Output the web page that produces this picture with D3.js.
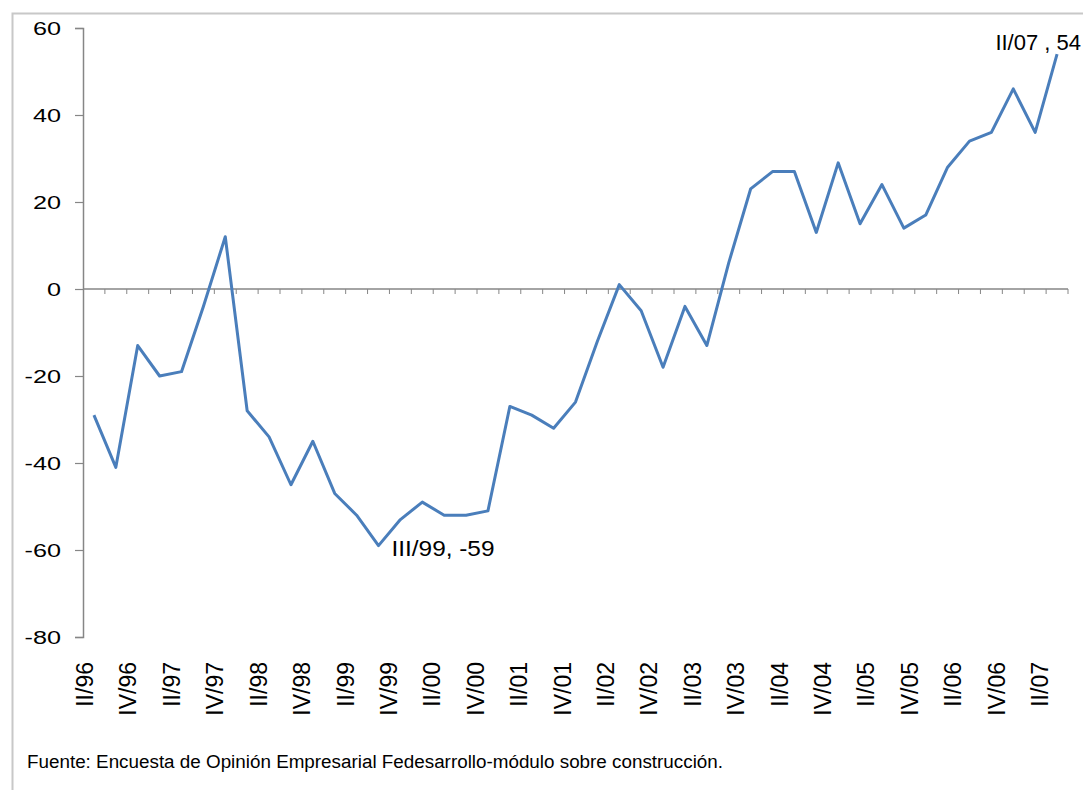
<!DOCTYPE html>
<html>
<head>
<meta charset="utf-8">
<script src="https://cdn.jsdelivr.net/npm/d3@7"></script>
<style>
  body { margin: 0; background: #fff; }
  svg { display: block; font-family: Arial, "Liberation Sans", sans-serif; }
</style>
</head>
<body>
<script>
// quarters II/96 .. II/07
var quarters = [
    "II/96", "III/96", "IV/96",
    "I/97", "II/97", "III/97", "IV/97",
    "I/98", "II/98", "III/98", "IV/98",
    "I/99", "II/99", "III/99", "IV/99",
    "I/00", "II/00", "III/00", "IV/00",
    "I/01", "II/01", "III/01", "IV/01",
    "I/02", "II/02", "III/02", "IV/02",
    "I/03", "II/03", "III/03", "IV/03",
    "I/04", "II/04", "III/04", "IV/04",
    "I/05", "II/05", "III/05", "IV/05",
    "I/06", "II/06", "III/06", "IV/06",
    "I/07", "II/07"
];

var balance = [
    -29, -41, -13,
    -20, -19, -4, 12,
    -28, -34, -45, -35,
    -47, -52, -59, -53,
    -49, -52, -52, -51,
    -27, -29, -32, -26,
    -12, 1, -5, -18,
    -4, -13, 6, 23,
    27, 27, 13, 29,
    15, 24, 14, 17,
    28, 34, 36, 46,
    36, 54
];

var tickLabels = [
    "II/96", "IV/96", "II/97", "IV/97", "II/98", "IV/98", "II/99", "IV/99",
    "II/00", "IV/00", "II/01", "IV/01", "II/02", "IV/02", "II/03", "IV/03",
    "II/04", "IV/04", "II/05", "IV/05", "II/06", "IV/06", "II/07"
];

var yTicks = [60, 40, 20, 0, -20, -40, -60, -80];

var notes = [
    { q: "III/99", v: -59, text: "III/99, -59" },
    { q: "II/07", v: 54, text: "II/07 , 54" }
];

var source = "Fuente: Encuesta de Opinión Empresarial Fedesarrollo-módulo sobre construcción.";

var width = 1083,
    height = 790,
    lineColor = "#4a7ebb",
    axisColor = "#868686";

var svg = d3.select("body").append("svg")
    .attr("width", width)
    .attr("height", height);

// outer chart frame
svg.append("path")
    .attr("d", "M12.5," + height + "V13.5H" + width)
    .attr("fill", "none")
    .attr("stroke", "#c8c8c8")
    .attr("stroke-width", 2);

var x = d3.scaleBand()
    .domain(quarters)
    .range([83, 1068]);

var y = d3.scaleLinear()
    .domain([-80, 60])
    .range([637, 28]);

// label positions drift a little from the category grid in the picture
var xLabel = d3.scalePoint()
    .domain(tickLabels)
    .range([85, 1040]);

// y axis
var yAxis = svg.append("g")
    .attr("transform", "translate(83,0)")
    .call(d3.axisLeft(y)
        .tickValues(yTicks)
        .tickSize(8)
        .tickPadding(14)
        .tickFormat(function (d) { return String(d); }));

yAxis.select(".domain").attr("stroke", axisColor).attr("stroke-width", 1.5);
yAxis.selectAll(".tick line").attr("stroke", axisColor).attr("stroke-width", 1.2);
yAxis.selectAll(".tick text")
    .attr("font-size", 18)
    .attr("font-family", "Arial, 'Liberation Sans', sans-serif")
    .attr("fill", "#000")
    .attr("dy", "0.36em")
    .each(function () {
        var w = this.getComputedTextLength();
        d3.select(this)
            .attr("textLength", w * 1.4)
            .attr("lengthAdjust", "spacingAndGlyphs");
    });

// zero line with category ticks
var xAxis = svg.append("g")
    .attr("transform", "translate(0," + y(0) + ")");

xAxis.append("line")
    .attr("x1", x.range()[0])
    .attr("x2", x.range()[1])
    .attr("stroke", axisColor)
    .attr("stroke-width", 1.5);

xAxis.selectAll(".qtick")
    .data(quarters)
    .enter().append("line")
    .attr("class", "qtick")
    .attr("x1", function (d) { return x(d) + x.bandwidth(); })
    .attr("x2", function (d) { return x(d) + x.bandwidth(); })
    .attr("y1", 0)
    .attr("y2", 5)
    .attr("stroke", axisColor)
    .attr("stroke-width", 1);

// category labels at the bottom
svg.append("g")
    .selectAll("text")
    .data(tickLabels)
    .enter().append("text")
    .attr("transform", function (d) { return "translate(" + xLabel(d) + ",662) rotate(-90)"; })
    .attr("text-anchor", "end")
    .attr("dy", "0.35em")
    .attr("font-size", 23)
    .attr("fill", "#000")
    .text(function (d) { return d; });

// series
var line = d3.line()
    .x(function (d, i) { return x(quarters[i]) + x.bandwidth() / 2; })
    .y(function (d) { return y(d); });

svg.append("path")
    .datum(balance)
    .attr("fill", "none")
    .attr("stroke", lineColor)
    .attr("stroke-width", 3)
    .attr("stroke-linejoin", "round")
    .attr("d", line);

// point labels
svg.append("text")
    .attr("x", x(notes[0].q) + x.bandwidth() / 2 + 13)
    .attr("y", y(notes[0].v) + 10)
    .attr("font-size", 22)
    .attr("fill", "#000")
    .attr("textLength", 103)
    .attr("lengthAdjust", "spacingAndGlyphs")
    .text(notes[0].text);

svg.append("text")
    .attr("x", 1081)
    .attr("y", y(notes[1].v) - 4)
    .attr("text-anchor", "end")
    .attr("font-size", 22)
    .attr("fill", "#000")
    .text(notes[1].text);

// source note
svg.append("text")
    .attr("x", 27)
    .attr("y", 768)
    .attr("font-size", 18)
    .attr("fill", "#000")
    .attr("textLength", 696)
    .attr("lengthAdjust", "spacingAndGlyphs")
    .text(source);
</script>
</body>
</html>
